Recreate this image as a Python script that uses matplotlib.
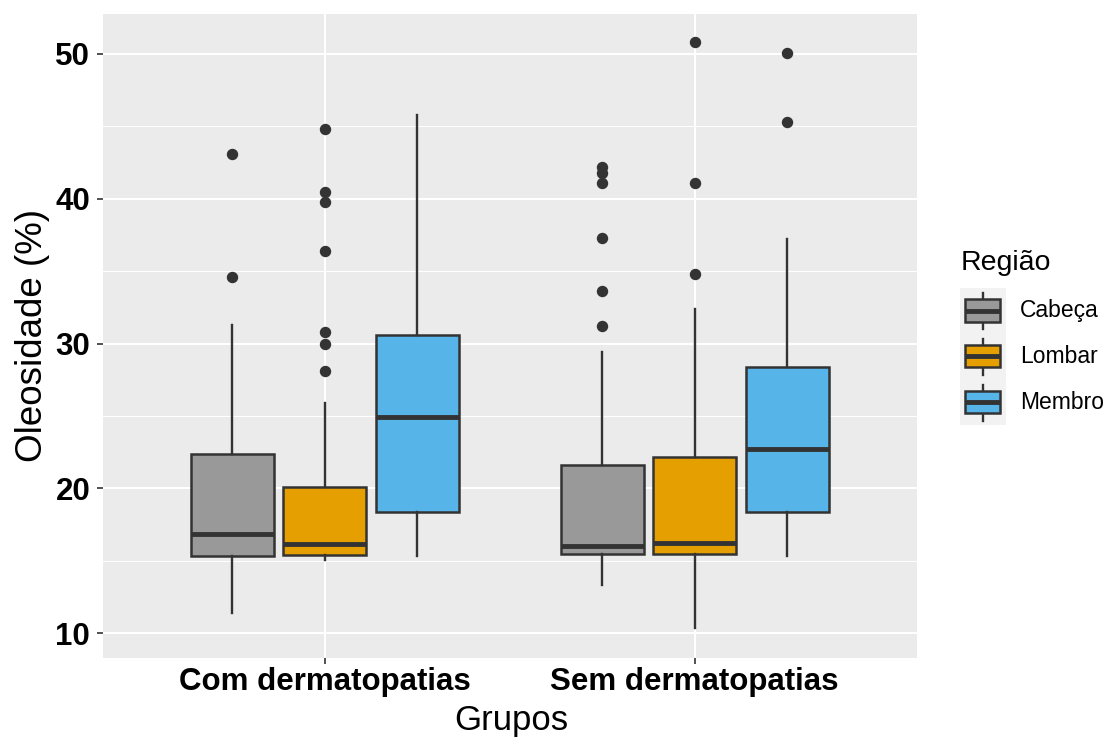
import matplotlib
matplotlib.use("Agg")
import matplotlib.pyplot as plt
from matplotlib.patches import Rectangle
from matplotlib.lines import Line2D

# ---------------- data ----------------
groups = ["Com dermatopatias", "Sem dermatopatias"]
regions = ["Cabeça", "Lombar", "Membro"]
colors = ["#999999", "#E69F00", "#56B4E9"]

# box statistics [group][region]
q1 = [[15.32, 15.37, 18.38], [15.44, 15.44, 18.35]]
medians = [[16.86, 16.13, 24.90], [15.99, 16.24, 22.70]]
q3 = [[22.37, 20.07, 30.57], [21.60, 22.18, 28.40]]
whislo = [[11.41, 15.05, 15.35], [13.32, 10.33, 15.35]]
whishi = [[31.30, 25.90, 45.80], [29.40, 32.40, 37.20]]
fliers = [
    [[43.1, 34.6], [44.8, 40.5, 39.8, 36.4, 30.8, 30.0, 28.1], []],
    [[42.2, 41.8, 41.1, 37.3, 33.6, 31.2], [50.8, 41.1, 34.8], [50.1, 45.3]],
]
yticks = [10, 20, 30, 40, 50]

# ---------------- figure ----------------
plt.rcParams['font.family'] = ['Liberation Sans', 'DejaVu Sans']
W, H = 1109, 742
fig = plt.figure(figsize=(W / 100, H / 100), dpi=100)
L, R, T, B = 102.7, 916.7, 14.0, 657.7
ax = fig.add_axes([L / W, 1 - B / H, (R - L) / W, (B - T) / H])
ax.set_facecolor("#EBEBEB")
for s in ax.spines.values():
    s.set_visible(False)

dark = "#333333"
dodge = 0.25
bw = 0.225
for gi, g in enumerate(groups):
    for ri, reg in enumerate(regions):
        pos = gi + 1 + (ri - 1) * dodge
        st = dict(med=medians[gi][ri], q1=q1[gi][ri], q3=q3[gi][ri],
                  whislo=whislo[gi][ri], whishi=whishi[gi][ri],
                  fliers=fliers[gi][ri], label=reg)
        ax.bxp([st], positions=[pos], widths=bw, patch_artist=True,
               showcaps=False, manage_ticks=False,
               boxprops=dict(facecolor=colors[ri], edgecolor=dark, linewidth=1.8),
               medianprops=dict(color=dark, linewidth=3.5, solid_capstyle='butt'),
               whiskerprops=dict(color=dark, linewidth=1.7),
               flierprops=dict(marker='o', markerfacecolor=dark, markeredgecolor=dark,
                               markersize=7.2, linestyle='none'))

ax.set_xlim(0.4, 2.6)
ax.set_ylim(8.30, 52.76)
ax.set_yticks(yticks)
ax.set_yticks([15, 25, 35, 45], minor=True)
ax.set_xticks([1, 2])
ax.set_xticklabels(groups)
ax.set_axisbelow(True)
ax.grid(True, which='major', color='white', linewidth=1.5)
ax.grid(True, which='minor', axis='y', color='white', linewidth=0.75)
ax.tick_params(axis='both', which='major', length=4, width=1.2, color=dark,
               labelcolor='black', labelsize=22.5)
ax.tick_params(axis='y', which='minor', length=0)
ax.tick_params(axis='y', pad=5)
ax.tick_params(axis='x', pad=3)
for lab in ax.get_xticklabels() + ax.get_yticklabels():
    lab.set_fontweight('bold')

# axis titles
fig.text(33 / W, 1 - (T + B) / 2 / H, "Oleosidade (%)", rotation=90,
         ha='center', va='center', fontsize=26.5, color='black')
fig.text(511 / W, 1 - 730 / H, "Grupos", ha='center', va='baseline',
         fontsize=25, color='black')

# ---------------- legend ----------------
kx0, kx1, ky0, ky1 = 960.0, 1005.7, 287.7, 425.0
lax = fig.add_axes([kx0 / W, 1 - ky1 / H, (kx1 - kx0) / W, (ky1 - ky0) / H])
lax.set_xlim(0, 1)
lax.set_ylim(3, 0)
lax.set_facecolor("#F2F2F2")
for s in lax.spines.values():
    s.set_visible(False)
lax.set_xticks([])
lax.set_yticks([])
for ri, reg in enumerate(regions):
    lax.add_line(Line2D([0.5, 0.5], [ri + 0.12, ri + 0.91], color=dark, linewidth=1.7))
    lax.add_patch(Rectangle((0.11, ri + 0.25), 0.765, 0.49, facecolor=colors[ri],
                            edgecolor=dark, linewidth=1.8, zorder=3))
    lax.add_line(Line2D([0.11, 0.875], [ri + 0.5, ri + 0.5], color=dark,
                        linewidth=3.5, zorder=4, solid_capstyle='butt'))
    fig.text(1020 / W, 1 - (ky0 + (ri + 0.5) * (ky1 - ky0) / 3) / H, reg,
             ha='left', va='center', fontsize=16.5, color='black')
fig.text(961 / W, 1 - 270 / H, "Região", ha='left', va='baseline',
         fontsize=20.5, color='black')

fig.savefig("out.png", dpi=100)
